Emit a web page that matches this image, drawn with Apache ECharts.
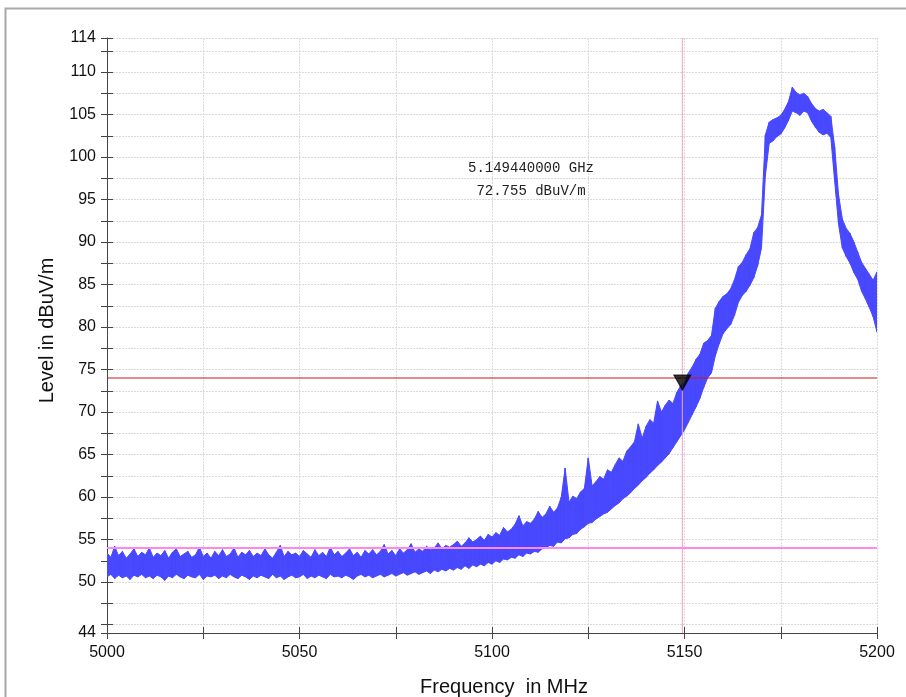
<!DOCTYPE html>
<html><head><meta charset="utf-8">
<script src="https://cdn.jsdelivr.net/npm/echarts@6/dist/echarts.min.js"></script>
<style>html,body{margin:0;padding:0;background:#fff}#c{width:906px;height:697px}</style>
</head><body><div id="c"></div>
<script>
// Sweep grid: 5000 MHz .. 5200 MHz, one reading per MHz
const freqStart = 5000;
const freqStep = 1;

// Upper envelope of the noisy trace (dBuV/m)
const levelMax = [
  53.4, 52.9, 54.2, 53.1, 53.6, 52.8, 53.3, 53.9, 53.0, 53.5,
  53.2, 54.0, 52.9, 53.4, 53.1, 53.7, 52.8, 53.5, 53.9, 53.0,
  53.3, 53.6, 52.9, 53.2, 54.1, 53.0, 53.4, 52.8, 53.6, 53.1,
  53.8, 53.0, 53.3, 54.0, 52.9, 53.5, 53.2, 53.7, 53.0, 53.4,
  53.1, 53.9, 53.2, 52.8, 53.5, 54.3, 53.0, 53.6, 53.2, 53.4,
  53.0, 53.7, 53.3, 52.9, 53.8, 53.1, 53.5, 53.0, 54.1, 53.2,
  53.6, 53.0, 53.4, 53.9, 53.1, 53.5, 52.9, 53.7, 53.3, 53.8,
  53.2, 53.6, 54.4, 53.3, 53.7, 53.1, 53.9, 53.4, 53.8, 54.5,
  53.5, 53.9, 53.6, 54.2, 53.8, 54.0, 54.6, 53.9, 54.3, 54.1,
  54.4, 54.8, 54.2, 54.6, 55.2, 54.7, 55.0, 55.4, 54.9, 55.6,
  55.3, 55.8, 55.5, 56.4, 55.9, 56.2, 56.8, 57.8, 56.6, 57.1,
  56.9, 57.4, 58.3, 57.6, 58.0, 58.9, 58.2, 58.7, 60.0, 63.4,
  59.4, 60.1, 59.8, 60.6, 61.0, 64.6, 61.3, 61.8, 62.4, 62.1,
  63.2, 62.9, 63.8, 64.6, 64.2, 65.4, 65.9, 66.5, 68.6, 66.9,
  68.3, 69.1, 68.7, 71.3, 70.0, 70.8, 71.4, 71.0, 72.3, 73.1,
  73.4, 74.6, 75.3, 76.2, 76.8, 78.1, 78.4, 79.0, 82.2, 83.0,
  83.6, 83.9, 84.5, 85.6, 87.1, 87.6, 88.5, 89.2, 91.1, 91.7,
  93.2, 102.6, 104.1, 104.4, 104.6, 104.9, 105.6, 106.5, 108.2, 107.6,
  107.3, 107.5, 107.1, 106.3, 105.7, 105.4, 105.6, 105.2, 104.8, 101.2,
  95.6, 92.7, 91.6, 91.0, 90.0, 88.8, 87.6, 86.9, 86.2, 85.5,
  86.5
];

// Lower envelope of the noisy trace (dBuV/m)
const levelMin = [
  50.6, 50.9, 50.4, 50.8, 50.5, 50.7, 50.3, 50.8, 50.6, 50.9,
  50.5, 50.7, 50.4, 50.8, 50.6, 50.2, 50.7, 50.5, 50.9, 50.6,
  50.4, 50.8, 50.6, 50.5, 50.9, 50.3, 50.7, 50.6, 50.8, 50.4,
  50.7, 50.5, 50.9, 50.6, 50.4, 50.8, 50.6, 50.3, 50.7, 50.5,
  50.8, 50.6, 50.4, 50.9, 50.5, 50.7, 50.3, 50.6, 50.8, 50.5,
  50.6, 50.9, 50.4, 50.7, 50.5, 50.8, 50.6, 50.4, 50.9, 50.6,
  50.7, 50.5, 50.8, 50.6, 50.3, 50.7, 50.9, 50.6, 50.8, 50.5,
  50.7, 50.9, 50.6, 50.8, 51.0, 50.7, 50.9, 51.1, 50.8, 51.0,
  51.2, 50.9, 51.1, 51.3, 51.0, 51.4, 51.2, 51.5, 51.3, 51.6,
  51.4, 51.7, 51.5, 51.9, 51.6, 52.0, 51.8, 52.1, 51.9, 52.3,
  52.1, 52.5, 52.3, 52.7, 52.6, 52.9, 52.8, 53.2, 53.0, 53.4,
  53.3, 53.6, 53.5, 53.9, 54.0, 54.3, 54.2, 54.7, 54.6, 55.1,
  55.2, 55.6, 55.7, 56.2, 56.5, 56.9, 57.0, 57.4, 57.7, 58.0,
  58.2, 58.6, 59.0, 59.3, 59.8, 60.1, 60.5, 61.0, 61.4, 61.9,
  62.3, 62.8, 63.2, 63.7, 64.1, 64.6, 65.1, 65.8, 66.5, 67.2,
  67.9, 68.8, 69.7, 70.6, 71.6, 72.9, 74.0, 74.6, 76.6, 78.0,
  79.2, 79.8, 80.3, 81.4, 82.9, 83.7, 84.2, 84.9, 85.8, 87.2,
  89.3, 97.8, 101.6, 101.9, 102.4, 102.7, 103.4, 104.3, 105.4, 105.2,
  104.9, 105.4, 105.2, 104.2, 103.5, 102.9, 102.6, 102.8, 102.3, 97.2,
  92.1, 89.3, 88.3, 87.5, 86.4, 85.6, 84.2, 83.3, 82.3, 81.2,
  79.4
];

const yLabelValues = [44, 50, 55, 60, 65, 70, 75, 80, 85, 90, 95, 100, 105, 110, 114];
const yTickValues = [44, 45, 47.5, 50, 52.5, 55, 57.5, 60, 62.5, 65, 67.5, 70, 72.5, 75, 77.5,
  80, 82.5, 85, 87.5, 90, 92.5, 95, 97.5, 100, 102.5, 105, 107.5, 110, 112.5, 114];
const xMin = 5000, xMax = 5200, xTickStep = 25, xLabelStep = 50;
const yMin = 44, yMax = 114;

const limitLevel = 74;      // red line
const lowerLevel = 54;      // pink line
const markerFreq = 5149.44; // MHz
const markerLevel = 72.755; // dBuV/m
const markerText = ['5.149440000 GHz', '72.755 dBuV/m'];

const traceData = levelMin.map((v, i) => [freqStart + i * freqStep, v, levelMax[i]]);

const BLUE = '#4848ff';
const FONT = 'Liberation Sans, Arial, sans-serif';

function refSeries(points, color, width) {
  return {
    type: 'line', data: points, silent: true, z: 5, symbol: 'none', showSymbol: false,
    color: color, lineStyle: {color: color, width: width, type: 'solid'},
    emphasis: {disabled: true}, clip: true
  };
}

const chart = echarts.init(document.getElementById('c'), null, {renderer: 'canvas'});
chart.setOption({
  animation: false,
  backgroundColor: '#fff',
  grid: {left: 107, right: 29, top: 38, bottom: 64, containLabel: false, outerBoundsMode: 'none'},
  xAxis: [{
    type: 'value', min: xMin, max: xMax, interval: xTickStep,
    name: 'Frequency  in MHz', nameLocation: 'middle', nameGap: 44,
    nameTextStyle: {fontFamily: FONT, fontSize: 20, color: '#111', padding: [0, 0, 0, 24]},
    axisLine: {show: true, lineStyle: {color: '#444', width: 1}},
    axisTick: {show: true, length: 6, lineStyle: {color: '#444'}},
    axisLabel: {fontFamily: FONT, fontSize: 16, color: '#111', margin: 12,
      formatter: v => (Math.round(v) % xLabelStep === 0 ? String(Math.round(v)) : '')},
    splitLine: {show: true, lineStyle: {color: '#dadada', type: [2, 1], width: 1}}
  }, {
    type: 'value', min: xMin, max: xMax, interval: xTickStep, position: 'bottom',
    axisLine: {show: false}, axisLabel: {show: false}, splitLine: {show: false},
    axisTick: {show: true, inside: true, length: 6, lineStyle: {color: '#444'}}
  }],
  yAxis: [{
    type: 'value', min: yMin, max: yMax,
    name: 'Level in dBuV/m', nameLocation: 'middle', nameGap: 50,
    nameTextStyle: {fontFamily: FONT, fontSize: 20, color: '#111', padding: [0, 0, 0, 10]},
    axisLine: {show: true, lineStyle: {color: '#444', width: 1}},
    axisTick: {show: true, length: 6, customValues: yTickValues, lineStyle: {color: '#444'}},
    axisLabel: {fontFamily: FONT, fontSize: 16, color: '#111', margin: 11, customValues: yLabelValues},
    splitLine: {show: true, lineStyle: {color: '#dadada', type: [2, 1], width: 1}}
  }, {
    type: 'value', min: yMin, max: yMax, position: 'left',
    axisLine: {show: false}, axisLabel: {show: false}, splitLine: {show: false},
    axisTick: {show: true, inside: true, length: 6, customValues: yTickValues, lineStyle: {color: '#444'}}
  }],
  series: [{
    type: 'custom', name: 'trace', data: traceData, silent: true, z: 2, clip: true,
    encode: {x: 0, y: [1, 2]},
    renderItem: function (params, api) {
      const i = params.dataIndex;
      if (i >= traceData.length - 1) return null;
      const next = traceData[i + 1];
      const a = api.coord([api.value(0), api.value(1)]);
      const b = api.coord([api.value(0), api.value(2)]);
      const c = api.coord([next[0], next[2]]);
      const d = api.coord([next[0], next[1]]);
      return {
        type: 'polygon', shape: {points: [a, b, c, d]},
        style: {fill: BLUE, stroke: BLUE, lineWidth: 1}
      };
    }
  },
  refSeries([[xMin, lowerLevel], [xMax, lowerLevel]], '#ff88f0', 2),
  refSeries([[xMin, limitLevel], [xMax, limitLevel]], '#c81818', 1),
  refSeries([[markerFreq, yMin], [markerFreq, yMax]], '#f0a0c8', 1),
  {
    type: 'scatter', data: [[markerFreq, markerLevel]], z: 6, silent: true,
    symbol: 'triangle', symbolRotate: 180, symbolSize: [17, 15], symbolOffset: [0, -6],
    itemStyle: {color: '#000', borderColor: '#000', borderWidth: 1}
  }],
  graphic: [{
    type: 'rect', left: 3, top: 6, silent: true, z: 100,
    shape: {width: 1000, height: 1000},
    style: {fill: 'none', stroke: '#a8a8a8', lineWidth: 2}
  }, {
    type: 'text', x: 531, y: 157, silent: true, z: 100,
    style: {text: markerText.join('\n'), textAlign: 'center', lineHeight: 23,
      font: '14px "Liberation Mono", monospace', fill: '#222'}
  }]
});
</script>
</body></html>
